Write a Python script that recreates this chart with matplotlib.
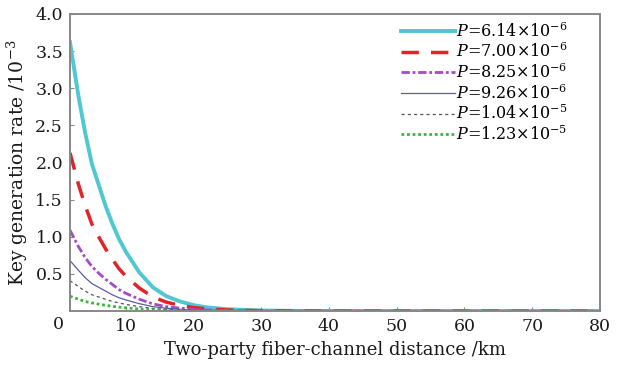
#!/usr/bin/env python3
"""Key generation rate vs two-party fiber-channel distance."""

import matplotlib

matplotlib.use("Agg")
import matplotlib.pyplot as plt
import matplotlib.transforms as mtransforms

plt.rcParams["font.family"] = ["DejaVu Serif"]
plt.rcParams["mathtext.fontset"] = "dejavuserif"

# distance in km
distance = [1.76, 3, 4, 5, 6, 7, 8, 9, 10, 12, 14, 16, 18, 20, 22, 25, 30, 35, 40, 50, 60, 70, 80]

rate_614 = [3.62, 2.90, 2.40, 1.98, 1.70, 1.42, 1.18, 0.97, 0.80, 0.52, 0.32, 0.20, 0.13,
            0.08, 0.05, 0.025, 0.008, 0.003, 0.001, 0, 0, 0, 0]
rate_700 = [2.13, 1.71, 1.42, 1.17, 1.00, 0.84, 0.70, 0.57, 0.47, 0.31, 0.19, 0.12, 0.077,
            0.047, 0.03, 0.015, 0.005, 0.002, 0.0006, 0, 0, 0, 0]
rate_825 = [1.09, 0.87, 0.72, 0.60, 0.51, 0.43, 0.36, 0.29, 0.24, 0.16, 0.097, 0.06, 0.04,
            0.024, 0.015, 0.008, 0.0025, 0.001, 0.0003, 0, 0, 0, 0]
rate_926 = [0.68, 0.55, 0.45, 0.37, 0.32, 0.27, 0.22, 0.18, 0.15, 0.10, 0.06, 0.038, 0.024,
            0.015, 0.009, 0.005, 0.0015, 0.0006, 0.0002, 0, 0, 0, 0]
rate_104 = [0.41, 0.33, 0.27, 0.22, 0.19, 0.16, 0.13, 0.11, 0.09, 0.06, 0.036, 0.023, 0.015,
            0.009, 0.006, 0.003, 0.001, 0.0003, 0.0001, 0, 0, 0, 0]
rate_123 = [0.20, 0.16, 0.13, 0.11, 0.094, 0.078, 0.065, 0.053, 0.044, 0.029, 0.018, 0.011,
            0.007, 0.0044, 0.0028, 0.0014, 0.0004, 0.0002, 0.0001, 0, 0, 0, 0]

labels = [
    r"$P$=6.14×10$^{-6}$",
    r"$P$=7.00×10$^{-6}$",
    r"$P$=8.25×10$^{-6}$",
    r"$P$=9.26×10$^{-6}$",
    r"$P$=1.04×10$^{-5}$",
    r"$P$=1.23×10$^{-5}$",
]
x_ticks = [10, 20, 30, 40, 50, 60, 70, 80]
y_ticks = [0.5, 1.0, 1.5, 2.0, 2.5, 3.0, 3.5, 4.0]

fig = plt.figure(figsize=(6.22, 3.66), dpi=100)
ax = fig.add_axes([0.1125, 0.150, 0.852, 0.812])

ax.plot(distance, rate_614, color="#4FC8D2", lw=2.8, ls="-", label=labels[0])
ax.plot(distance, rate_700, color="#E0242A", lw=2.5, ls=(0, (5, 3.5)), label=labels[1])
ax.plot(distance, rate_825, color="#A54BC6", lw=2.0, ls=(0, (3, 1, 1, 1)), label=labels[2])
ax.plot(distance, rate_926, color="#5C5CA6", lw=0.9, ls="-", label=labels[3])
ax.plot(distance, rate_104, color="#555555", lw=0.9, ls=(0, (2.5, 2.5)), label=labels[4])
ax.plot(distance, rate_123, color="#3DB53D", lw=2.0, ls=(0, (1, 1)), label=labels[5])

ax.set_xlim(1.76, 80)
ax.set_ylim(0, 4.0)
ax.set_xticks(x_ticks)
ax.set_yticks(y_ticks)
ax.set_yticklabels([f"{v:.1f}" for v in y_ticks])
ax.tick_params(direction="in", length=3, width=0.8, colors="#888888",
               labelcolor="#1a1a1a", labelsize=12.5, pad=5)
for spine in ax.spines.values():
    spine.set_color("#888888")
    spine.set_linewidth(1.4)

# lone "0" label at the origin position below the axis
trans = mtransforms.blended_transform_factory(ax.transData, ax.transAxes)
ax.text(0, -0.018, "0", transform=trans, ha="center", va="top",
        fontsize=12.5, color="#1a1a1a", clip_on=False)

ax.set_xlabel("Two-party fiber-channel distance /km", fontsize=13, labelpad=4,
              color="#1a1a1a")
ax.set_ylabel(r"Key generation rate /10$^{-3}$", fontsize=13.5, labelpad=4,
              color="#1a1a1a")

ax.legend(loc="upper right", frameon=False, fontsize=11.5, handlelength=3.4,
          handletextpad=0.05, labelspacing=0.12, borderaxespad=0.3,
          bbox_to_anchor=(0.96, 1.01))

fig.savefig("out.png", dpi=100)
